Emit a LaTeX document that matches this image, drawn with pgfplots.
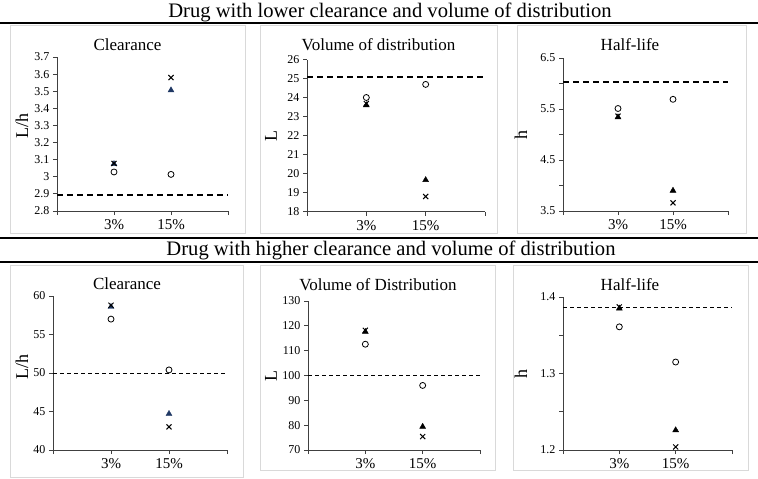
\documentclass[border=0pt]{standalone}
\usepackage{pgfplots}
\pgfplotsset{compat=1.18}
\usepackage{fontspec}
\setmainfont{Liberation Serif}
\definecolor{navy}{RGB}{31,56,100}
\definecolor{boxgray}{RGB}{217,217,217}
\pgfplotsset{
 panel/.style={
  scale only axis, xmin=0, xmax=3, xtick={0,1,2,3}, xticklabels={,3\%,15\%,},
  axis x line*=bottom, axis y line*=left,
  axis line style={black!75, line width=0.8pt},
  tick style={black!75, line width=0.8pt}, tick align=outside,
  major tick length=4pt, minor tick length=4pt,
  x tick label style={font=\fontsize{15}{15}\selectfont, yshift=-1pt},
  y tick label style={font=\fontsize{12}{12}\selectfont},
  /pgf/number format/assume math mode=true,
  ylabel style={font=\fontsize{18}{18}\selectfont, anchor=center},
  clip=false,
 },
 circ/.style={only marks, mark=o, mark size=3pt, black, mark options={line width=0.8pt}},
 tri/.style={only marks, mark=triangle*, mark size=3.4pt, black},
 crs/.style={only marks, mark=x, mark size=3.6pt, black, mark options={line width=1pt}},
 dashtop/.style={black, line width=1.6pt, dash pattern=on 6pt off 4pt, no marks},
 dashbot/.style={black, line width=0.7pt, dash pattern=on 4pt off 3pt, no marks},
}
\begin{document}
\begin{tikzpicture}
\useasboundingbox (0pt,0pt) rectangle (758pt,-479pt);
% panel boxes
\draw[boxgray, line width=0.8pt] (10pt,-25pt) rectangle (245pt,-233pt);
\draw[boxgray, line width=0.8pt] (260pt,-25pt) rectangle (497pt,-233pt);
\draw[boxgray, line width=0.8pt] (517pt,-25pt) rectangle (746pt,-233pt);
\draw[boxgray, line width=0.8pt] (10pt,-265pt) rectangle (243pt,-477pt);
\draw[boxgray, line width=0.8pt] (260pt,-265pt) rectangle (495pt,-470pt);
\draw[boxgray, line width=0.8pt] (513pt,-265pt) rectangle (748pt,-470pt);
% separator lines
\draw[black, line width=1.4pt] (0pt,-23pt) -- (758pt,-23pt);
\draw[black, line width=1.4pt] (0pt,-238pt) -- (758pt,-238pt);
\draw[black, line width=1.4pt] (0pt,-262pt) -- (758pt,-262pt);
% row titles
\node[font=\fontsize{20.6}{20.6}\selectfont] at (390pt,-12pt) {Drug with lower clearance and volume of distribution};
\node[font=\fontsize{20.6}{20.6}\selectfont] at (391pt,-250pt) {Drug with higher clearance and volume of distribution};
% panel titles
\node[font=\fontsize{17}{17}\selectfont] at (127.5pt,-45pt) {Clearance};
\node[font=\fontsize{17}{17}\selectfont] at (378.5pt,-45pt) {Volume of distribution};
\node[font=\fontsize{17}{17}\selectfont] at (630pt,-45pt) {Half-life};
\node[font=\fontsize{17}{17}\selectfont] at (127pt,-284pt) {Clearance};
\node[font=\fontsize{17}{17}\selectfont] at (378pt,-285pt) {Volume of Distribution};
\node[font=\fontsize{17}{17}\selectfont] at (630pt,-285pt) {Half-life};

% P1
\begin{axis}[panel, at={(57pt,-211pt)}, anchor=south west, width=171pt, height=154pt,
  ymin=2.8, ymax=3.7, ytick={2.8,2.9,3,3.1,3.2,3.3,3.4,3.5,3.6,3.7},
  ylabel={L/h}, ylabel style={at={(axis description cs:-0.205,0.55)}}]
\addplot[dashtop] coordinates {(0,2.893) (3,2.893)};
\addplot[circ] coordinates {(1,3.028) (2,3.014)};
\addplot[tri, navy] coordinates {(1,3.075) (2,3.506)};
\addplot[crs] coordinates {(1,3.078) (2,3.58)};
\end{axis}
% P2
\begin{axis}[panel, at={(307pt,-211.5pt)}, anchor=south west, width=178pt, height=152pt,
  ymin=18, ymax=26, ytick={18,19,20,21,22,23,24,25,26},
  ylabel={L}, ylabel style={at={(axis description cs:-0.202,0.5)}}]
\addplot[dashtop] coordinates {(0,25.09) (3,25.09)};
\addplot[circ] coordinates {(1,24.0) (2,24.69)};
\addplot[tri] coordinates {(1,23.6) (2,19.66)};
\addplot[crs] coordinates {(1,23.68) (2,18.79)};
\end{axis}
% P3
\begin{axis}[panel, at={(563pt,-211pt)}, anchor=south west, width=165pt, height=153pt,
  ymin=3.5, ymax=6.5, ytick={3.5,4.5,5.5,6.5}, minor ytick={4,5,6},
  ylabel={h}, ylabel style={at={(axis description cs:-0.255,0.5)}}]
\addplot[dashtop] coordinates {(0,6.03) (3,6.03)};
\addplot[circ] coordinates {(1,5.51) (2,5.69)};
\addplot[tri] coordinates {(1,5.34) (2,3.90)};
\addplot[crs] coordinates {(1,5.36) (2,3.66)};
\end{axis}
% P4
\begin{axis}[panel, at={(53pt,-450pt)}, anchor=south west, width=174pt, height=154pt,
  ymin=40, ymax=60, ytick={40,45,50,55,60},
  ylabel={L/h}, ylabel style={at={(axis description cs:-0.178,0.54)}}]
\addplot[dashbot] coordinates {(0,50.0) (3,50.0)};
\addplot[circ] coordinates {(1,57.0) (2,50.4)};
\addplot[tri, navy] coordinates {(1,58.6) (2,44.7)};
\addplot[crs] coordinates {(1,58.8) (2,43.0)};
\end{axis}
% P5
\begin{axis}[panel, at={(308pt,-450pt)}, anchor=south west, width=172pt, height=149pt,
  ymin=70, ymax=130, ytick={70,80,90,100,110,120,130},
  ylabel={L}, ylabel style={at={(axis description cs:-0.215,0.5)}}]
\addplot[dashbot] coordinates {(0,100.2) (3,100.2)};
\addplot[circ] coordinates {(1,112.6) (2,96.0)};
\addplot[tri] coordinates {(1,117.6) (2,79.4)};
\addplot[crs] coordinates {(1,118.2) (2,75.4)};
\end{axis}
% P6
\begin{axis}[panel, at={(563pt,-450pt)}, anchor=south west, width=169pt, height=153pt,
  ymin=1.2, ymax=1.4, ytick={1.2,1.3,1.4}, minor ytick={1.25,1.35},
  ylabel={h}, ylabel style={at={(axis description cs:-0.249,0.5)}}]
\addplot[dashbot] coordinates {(0,1.3865) (3,1.3865)};
\addplot[circ] coordinates {(1,1.361) (2,1.315)};
\addplot[tri] coordinates {(1,1.385) (2,1.226)};
\addplot[crs] coordinates {(1,1.387) (2,1.204)};
\end{axis}
\end{tikzpicture}
\end{document}
